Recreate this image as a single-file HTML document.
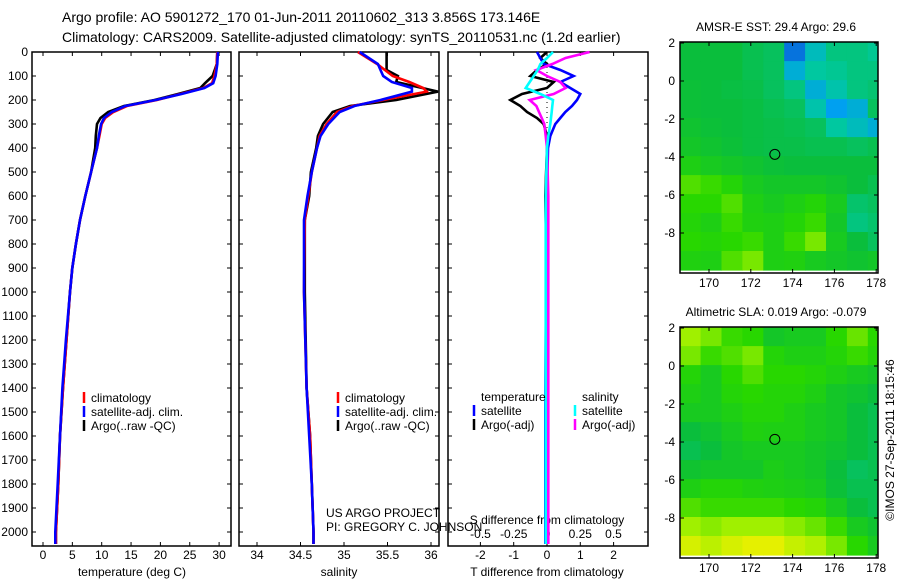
<!DOCTYPE html>
<html><head><meta charset="utf-8">
<style>
body{margin:0;background:#fff;}
svg{display:block;font-family:"Liberation Sans",sans-serif;}
text{fill:#000;}
</style></head>
<body>
<svg id="fig" width="900" height="580" viewBox="0 0 900 580" xmlns="http://www.w3.org/2000/svg">
<text x="62" y="22" font-size="14">Argo profile: AO 5901272_170 01-Jun-2011 20110602_313 3.856S 173.146E</text>
<text x="62" y="42" font-size="14">Climatology: CARS2009. Satellite-adjusted climatology: synTS_20110531.nc (1.2d earlier)</text>
<g id="layer"></g>
</svg>
<script>
// ---------- data ----------
const depthTicks = [0,100,200,300,400,500,600,700,800,900,1000,1100,1200,1300,1400,1500,1600,1700,1800,1900,2000];
const depths = [0,50,100,130,150,175,200,225,250,275,300,350,400,500,600,700,800,900,1000,1200,1400,1600,1800,2000,2050];
const tempClim = [29.7,29.6,29.2,28.8,27.3,23.4,19.4,14.3,12,10.6,10,9.6,9.2,8.2,7.2,6.3,5.6,5,4.6,4,3.4,2.9,2.6,2.2,2.2];
const tempSat  = [29.8,29.7,29.4,29.0,27.5,23.6,19.2,14.0,11.7,10.4,9.9,9.5,9.2,8.2,7.2,6.3,5.6,5,4.6,3.9,3.3,2.9,2.5,2.1,2.1];
const tempArgo = [29.7,29.6,28.9,27.6,26.8,23.0,19.0,13.8,11.1,9.8,9.2,9.0,8.9,8.2,7.2,6.3,5.6,5,4.6,4,3.4,2.9,2.6,2.2,2.2];
const tempTicks = [0,5,10,15,20,25,30];

const salDepths = [0,50,75,100,125,150,165,200,225,250,300,350,400,500,600,700,1000,1400,1600,1800,2000,2050];
const salClim = [35.16,35.38,35.47,35.56,35.75,35.91,35.95,35.45,35.1,34.92,34.8,34.72,34.69,34.63,34.59,34.55,34.54,34.57,34.61,34.63,34.65,34.65];
const salSat  = [35.18,35.39,35.42,35.45,35.55,35.78,35.78,35.42,35.12,34.95,34.82,34.73,34.69,34.63,34.58,34.54,34.54,34.57,34.6,34.63,34.65,34.65];
const salArgo = [35.49,35.49,35.49,35.62,35.6,35.9,36.08,35.6,35.07,34.87,34.76,34.7,34.68,34.62,34.6,34.55,34.55,34.57,34.61,34.63,34.65,34.65];
const salTicks = [34,34.5,35,35.5,36];

const diffDepths = [0,25,50,75,100,125,150,175,200,225,250,275,300,350,400,600,1000,1500,2050];
const tSatDiff  = [-0.3,-0.2,-0.1,0.4,0.8,0.4,0.7,1.0,0.9,0.75,0.55,0.4,0.25,0.1,0.03,0,-0.03,-0.05,-0.05];
const tArgoDiff = [0,-0.2,0,-0.3,-0.5,0.2,0,-0.75,-1.1,-0.8,-0.6,-0.3,-0.1,0,0,-0.05,0,0,0];
const sSatDiff  = [0.045,0.0,-0.05,-0.07,-0.1,-0.13,-0.16,-0.05,0.045,0.04,0.035,0.03,0.025,0.01,0,-0.01,-0.01,-0.01,-0.01];
const sArgoDiff = [0.32,0.14,0.04,-0.08,0.0,0.1,0.14,0.05,-0.13,-0.08,-0.06,-0.04,-0.02,-0.01,0,0.01,0.01,0.01,0.01];
const tDiffTicks = [-2,-1,0,1,2];
const sDiffTicks = [-0.5,-0.25,0,0.25,0.5];
const sDiffTickLabels = ['-0.5','-0.25','0','0.25','0.5'];

const lonTicks = [170,172,174,176,178];
const latTicks = [2,0,-2,-4,-6,-8];
const gridLat0 = 2.05; // top edge of first row
const gridLon0 = 168.6;
const sstGrid = [
[.55,.55,.55,.52,.5,.15,.35,.45,.45,.42],
[.55,.55,.55,.52,.5,.3,.4,.42,.45,.45],
[.56,.55,.54,.53,.5,.45,.3,.38,.45,.47],
[.56,.55,.55,.54,.52,.5,.38,.25,.3,.5],
[.58,.56,.55,.54,.53,.52,.5,.4,.35,.3],
[.6,.58,.56,.54,.53,.53,.52,.52,.5,.52],
[.65,.62,.6,.58,.56,.55,.55,.55,.55,.55],
[.75,.72,.68,.62,.6,.6,.6,.58,.55,.52],
[.7,.7,.75,.65,.62,.65,.68,.62,.48,.5],
[.68,.65,.72,.66,.65,.68,.72,.6,.45,.48],
[.7,.68,.7,.72,.65,.72,.8,.62,.55,.5],
[.66,.65,.75,.8,.65,.66,.62,.6,.58,.6]];
const slaGrid = [
[.85,.8,.72,.7,.6,.62,.62,.7,.78,.7],
[.8,.72,.75,.8,.68,.65,.65,.68,.72,.68],
[.68,.62,.7,.75,.7,.7,.68,.65,.62,.6],
[.65,.62,.68,.7,.68,.68,.65,.6,.58,.55],
[.62,.62,.65,.68,.68,.65,.62,.6,.55,.52],
[.55,.58,.62,.66,.65,.65,.62,.6,.55,.52],
[.52,.55,.6,.62,.62,.62,.6,.58,.55,.52],
[.58,.6,.6,.6,.64,.62,.6,.55,.5,.52],
[.65,.68,.68,.66,.65,.64,.62,.56,.52,.52],
[.75,.72,.72,.72,.72,.7,.68,.62,.55,.52],
[.85,.82,.85,.85,.85,.82,.78,.72,.62,.58],
[.95,.9,.95,.98,.98,.92,.88,.8,.7,.62]];
const floatLon = [173.15];
const floatLat = [-3.86];

// ---------- helpers ----------
const NS='http://www.w3.org/2000/svg';
const L=document.getElementById('layer');
function mk(tag,attrs,parent){const e=document.createElementNS(NS,tag);for(const k in attrs)e.setAttribute(k,attrs[k]);(parent||L).appendChild(e);return e;}
function txt(x,y,s,size,anchor,parent){const t=mk('text',{x:x,y:y,'font-size':size,'text-anchor':anchor||'start'},parent);t.textContent=s;return t;}

const yTop=52, yPerM=0.24, boxTop=52, boxBot=546;
const depthY = d => yTop + d*yPerM;
const tempX = v => 43 + v*5.87;
const salX = v => 257 + (v-34)*87;
const tdX = v => 547 + v*33.3;
const sdX = v => 547 + v*133;

function panel(x0,x1,name){
  const g=mk('g',{});
  
  
  mk('rect',{x:x0,y:boxTop,width:x1-x0,height:boxBot-boxTop,fill:'none',stroke:'#000','stroke-width':1.5},g);
  depthTicks.forEach(d=>{
    const y=depthY(d);
    mk('line',{x1:x0,y1:y,x2:x0+4,y2:y,stroke:'#000'},g);
    mk('line',{x1:x1-4,y1:y,x2:x1,y2:y,stroke:'#000'},g);
  });
  return g;
}
function series(xs,ds,fx,color,name,w){
  const pts=xs.map((v,i)=>fx(v).toFixed(1)+','+depthY(ds[i]).toFixed(1)).join(' ');
  const p=mk('polyline',{points:pts,fill:'none',stroke:color,'stroke-width':w||2.6,'stroke-linejoin':'miter'});
  
  
}
function legend(x,y,entries,g){
  entries.forEach((e,i)=>{
    mk('line',{x1:x,y1:y+i*14-10,x2:x,y2:y+i*14+1,stroke:e[0],'stroke-width':2.5},g);
    txt(x+7,y+i*14,e[1],12,'start',g);
  });
}

// ---------- panel 1 ----------
const p1=panel(32,231,'temperature-panel');
depthTicks.forEach(d=>{const t=txt(28,depthY(d)+4,String(d),12,'end',p1);});
tempTicks.forEach(v=>{const x=tempX(v);mk('line',{x1:x,y1:boxTop,x2:x,y2:boxTop+4,stroke:'#000'},p1);mk('line',{x1:x,y1:boxBot-4,x2:x,y2:boxBot,stroke:'#000'},p1);txt(x,559,String(v),12,'middle',p1);});
txt(132,576,'temperature (deg C)',12,'middle',p1);
series(tempArgo,depths,tempX,'#000','temp-argo-line');
series(tempClim,depths,tempX,'#f00','temp-climatology-line');
series(tempSat,depths,tempX,'#0000ff','temp-satellite-line');
const lg1=mk('g',{});
legend(84,402,[['#f00','climatology'],['#0000ff','satellite-adj. clim.'],['#000','Argo(..raw -QC)']],lg1);

// ---------- panel 2 ----------
const p2=panel(239,439,'salinity-panel');
salTicks.forEach(v=>{const x=salX(v);mk('line',{x1:x,y1:boxTop,x2:x,y2:boxTop+4,stroke:'#000'},p2);mk('line',{x1:x,y1:boxBot-4,x2:x,y2:boxBot,stroke:'#000'},p2);txt(x,559,String(v),12,'middle',p2);});
txt(339,576,'salinity',12,'middle',p2);
series(salArgo,salDepths,salX,'#000','salinity-argo-line');
series(salClim,salDepths,salX,'#f00','salinity-climatology-line');
series(salSat,salDepths,salX,'#0000ff','salinity-satellite-line');
const lg2=mk('g',{});
legend(338,402,[['#f00','climatology'],['#0000ff','satellite-adj. clim.'],['#000','Argo(..raw -QC)']],lg2);

// ---------- panel 3 ----------
const p3=panel(448,648,'difference-panel');
tDiffTicks.forEach(v=>{const x=tdX(v);mk('line',{x1:x,y1:boxTop,x2:x,y2:boxTop+4,stroke:'#000'},p3);mk('line',{x1:x,y1:boxBot-4,x2:x,y2:boxBot,stroke:'#000'},p3);txt(x,559,String(v),12,'middle',p3);});
txt(547,576,'T difference from climatology',12,'middle',p3);
sDiffTicks.forEach((v,i)=>{txt(sdX(v),538,sDiffTickLabels[i],12,'middle',p3);});
txt(547,524,'S difference from climatology',12,'middle',p3);
mk('line',{x1:tdX(0),y1:depthY(0),x2:tdX(0),y2:depthY(420),stroke:'#000','stroke-dasharray':'1,4','stroke-width':1},p3);
series(tArgoDiff,diffDepths,tdX,'#000','t-diff-argo-line');
series(tSatDiff,diffDepths,tdX,'#0000ff','t-diff-satellite-line');
series(sArgoDiff,diffDepths,sdX,'#ff00ff','s-diff-argo-line');
series(sSatDiff,diffDepths,sdX,'#00ffff','s-diff-satellite-line');
const lg3=mk('g',{});
txt(481,401,'temperature',12,'start',lg3);
txt(582,401,'salinity',12,'start',lg3);
legend(474,415,[['#0000ff','satellite'],['#000','Argo(-adj)']],lg3);
legend(575,415,[['#00ffff','satellite'],['#ff00ff','Argo(-adj)']],lg3);

const cr=mk('g',{});
txt(326,517,'US ARGO PROJECT',12,'start',cr);
txt(326,531,'PI: GREGORY C. JOHNSON',12,'start',cr);

// ---------- maps ----------
const stops=[[0,[16,48,192]],[0.25,[0,160,240]],[0.4,[0,200,160]],[0.55,[10,190,60]],[0.7,[40,215,0]],[0.85,[160,240,0]],[1,[240,240,0]]];
function cmap(v){for(let i=1;i<stops.length;i++){if(v<=stops[i][0]){const a=stops[i-1],b=stops[i];const t=(v-a[0])/(b[0]-a[0]);const c=a[1].map((q,k)=>Math.round(q+(b[1][k]-q)*t));return 'rgb('+c.join(',')+')';}}return 'rgb(240,240,0)';}

function map(top,grid,title,name){
  const g=mk('g',{});
  
  
  const x0=680,x1=878,h=231;
  const lonX=lo=>709+(lo-170)*20.9;
  const latY=la=>top+1+(2-la)*19;
  const cp='clip-'+name;
  const cpe=mk('clipPath',{id:cp},g);mk('rect',{x:x0,y:top,width:x1-x0,height:h},cpe);
  const cg=mk('g',{'clip-path':'url(#'+cp+')'},g);
  grid.forEach((row,r)=>row.forEach((v,c)=>{
    const xa=lonX(gridLon0+c),ya=latY(gridLat0-r);
    const cell=mk('rect',{x:xa.toFixed(1),y:ya.toFixed(1),width:21.5,height:19.6,fill:cmap(v)},cg);
    
    
  }));
  mk('rect',{x:x0,y:top,width:x1-x0,height:h,fill:'none',stroke:'#000','stroke-width':1.5},g);
  latTicks.forEach(la=>{const y=latY(la);mk('line',{x1:x0,y1:y,x2:x0+4,y2:y,stroke:'#000'},g);mk('line',{x1:x1-4,y1:y,x2:x1,y2:y,stroke:'#000'},g);txt(675,y+4,String(la),12,'end',g);});
  lonTicks.forEach(lo=>{const x=lonX(lo);mk('line',{x1:x,y1:top,x2:x,y2:top+4,stroke:'#000'},g);mk('line',{x1:x,y1:top+h-4,x2:x,y2:top+h,stroke:'#000'},g);txt(x,top+h+14,String(lo),12,'middle',g);});
  const c=mk('circle',{cx:lonX(floatLon[0]),cy:latY(floatLat[0]),r:5,fill:'none',stroke:'#000','stroke-width':1},g);
  
  
  txt(776,top-11,title,12,'middle',g);
}
map(42,sstGrid,'AMSR-E SST: 29.4 Argo: 29.6','sst-map');
map(327,slaGrid,'Altimetric SLA: 0.019 Argo: -0.079','sla-map');

const st=mk('text',{x:0,y:0,'font-size':12,'text-anchor':'middle',transform:'translate(894,440) rotate(-90)'});
st.textContent='©IMOS 27-Sep-2011 18:15:46';


</script>
</body></html>
